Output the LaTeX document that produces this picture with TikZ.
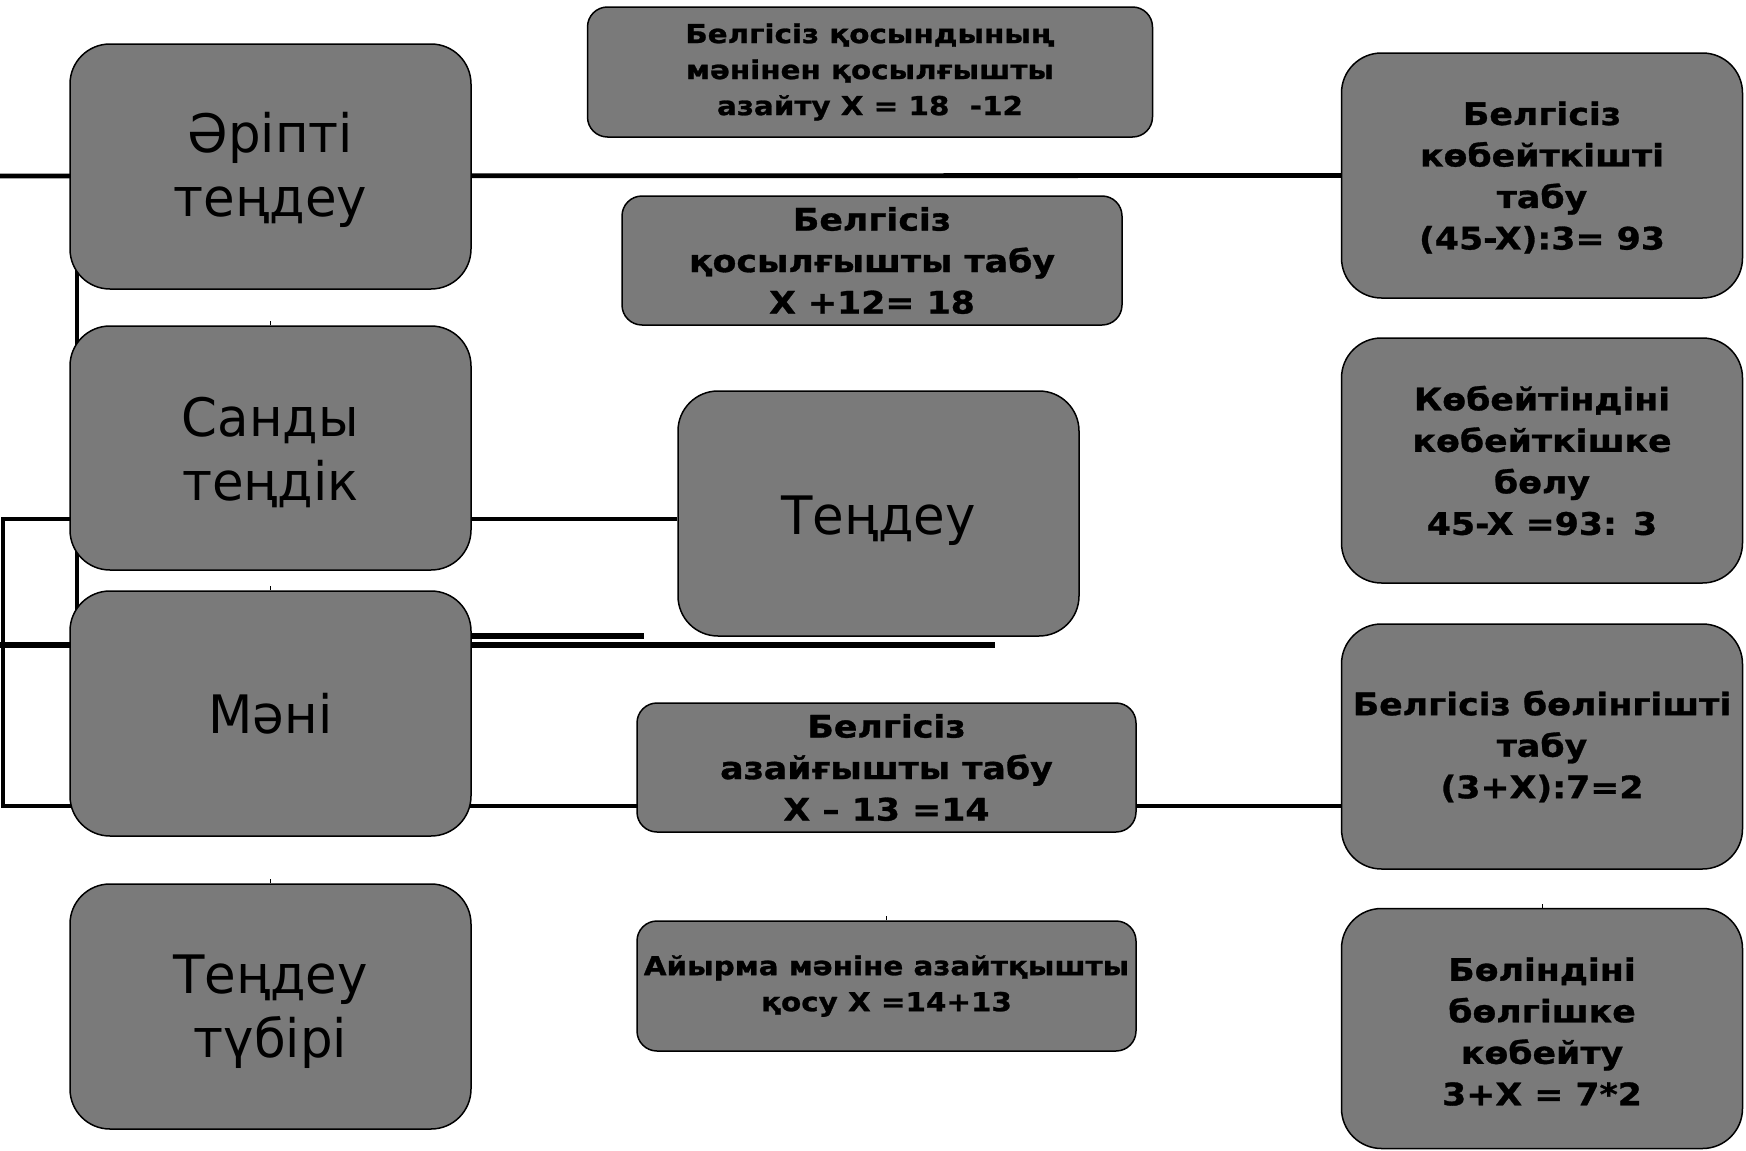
\documentclass[tikz,border=0pt]{standalone}
\usepackage{fontspec}
\setmainfont{DejaVu Sans}
\newfontfamily\regfont[FakeStretch=0.97]{DejaVu Sans}
\newfontfamily\boldfont[FakeStretch=1.13,FakeBold=1]{DejaVu Sans Bold}
\newfontfamily\boldfontL[FakeStretch=1.12,FakeBold=1]{DejaVu Sans Bold}
\newcommand{\lowerby}[2]{\raisebox{-#1}[\height][\depth]{#2}}
\usetikzlibrary{backgrounds}
\definecolor{boxgray}{RGB}{122,122,122}
\tikzset{
  box/.style={draw=black, line width=1.5pt, fill=boxgray, align=center, inner sep=0pt},
  bigr/.style={rounded corners=40pt},
  smallr/.style={rounded corners=20pt},
  bigtxt/.style={font=\regfont\fontsize{53}{64}\selectfont},
  boldL/.style={font=\boldfontL\fontsize{31}{41.5}\selectfont},
  boldS/.style={font=\boldfont\fontsize{26}{36}\selectfont},
  conn/.style={line width=4.8pt},
  connthick/.style={line width=5.5pt},
  tickline/.style={line width=0.6pt},
}
\begin{document}
\begin{tikzpicture}[x=1pt,y=-1pt]
\useasboundingbox (0,0) rectangle (1746,1151);
% left column
\node[box,bigr,bigtxt,minimum width=401pt,minimum height=245pt] (B1) at (270.5,166.5) {\lowerby{3pt}{Әріпті}\\\lowerby{3pt}{теңдеу}};
\node[box,bigr,bigtxt,minimum width=401pt,minimum height=244pt] (B2) at (270.5,448) {\lowerby{4pt}{Санды}\\\lowerby{4pt}{теңдік}};
\node[box,bigr,bigtxt,minimum width=401pt,minimum height=245pt] (B3) at (270.5,713.5) {Мәні};
\node[box,bigr,bigtxt,minimum width=401pt,minimum height=245pt] (B4) at (270.5,1006.5) {\lowerby{5pt}{Теңдеу}\\\lowerby{5pt}{түбірі}};
% middle column
\node[box,smallr,boldS,minimum width=565pt,minimum height=130pt] (M1) at (870,72) {Белгісіз қосындының\\мәнінен қосылғышты\\азайту X = 18~~-12};
\node[box,smallr,boldL,minimum width=500pt,minimum height=129pt] (M2) at (872,260.5) {Белгісіз\\қосылғышты табу\\X +12= 18};
\node[box,bigr,bigtxt,minimum width=401pt,minimum height=245pt] (M3) at (878.5,513.5) {\lowerby{7pt}{Теңдеу}};
\node[box,smallr,boldL,minimum width=499pt,minimum height=129pt] (M4) at (886.5,767.5) {Белгісіз\\азайғышты табу\\X – 13 =14};
\node[box,smallr,boldS,minimum width=499pt,minimum height=130pt] (M5) at (886.5,986) {Айырма мәніне азайтқышты\\қосу X =14+13};
% right column
\node[box,bigr,boldL,minimum width=401pt,minimum height=245pt] (R1) at (1542,175.5) {\lowerby{2pt}{Белгісіз}\\\lowerby{2pt}{көбейткішті}\\\lowerby{2pt}{табу}\\\lowerby{2pt}{(45-X):3= 93}};
\node[box,bigr,boldL,minimum width=401pt,minimum height=245pt] (R2) at (1542,460.5) {Көбейтіндіні\\көбейткішке\\бөлу\\45-X =93: 3};
\node[box,bigr,boldL,minimum width=401pt,minimum height=245pt] (R3) at (1542,746.5) {Белгісіз бөлінгішті\\табу\\(3+X):7=2};
\node[box,bigr,boldL,minimum width=401pt,minimum height=240pt] (R4) at (1542,1028.5) {\lowerby{3pt}{Бөліндіні}\\\lowerby{3pt}{бөлгішке}\\\lowerby{3pt}{көбейту}\\\lowerby{3pt}{3+X = 7*2}};
% connectors
\coordinate (l1s) at (0,176);
\coordinate (v1t) at (77,176);
\coordinate (v1b) at (77,645);
\coordinate (l3s) at (3,519);
\coordinate (l5s) at (3,806);
\coordinate (l6s) at (300,636);
\coordinate (l6e) at (644,636);
\coordinate (l7s) at (0,645);
\coordinate (l7e) at (995,645);
\begin{pgfonlayer}{background}
\draw[conn] (l1s) -- (R1.west);
\draw[conn] (v1t) -- (v1b);
\draw[conn] (l3s -| M3.west) -- (l3s) -- (l5s) -- (l5s -| R3.west);
\draw[connthick] (l6s) -- (l6e);
\draw[connthick] (l7s) -- (l7e);
\draw[tickline] (B2.north) -- ++(0,-4);
\draw[tickline] (B3.north) -- ++(0,-4);
\draw[tickline] (B4.north) -- ++(0,-4);
\draw[tickline] (M5.north) -- ++(0,-4);
\draw[tickline] (R4.north) -- ++(0,-4);
\end{pgfonlayer}
\end{tikzpicture}
\end{document}
